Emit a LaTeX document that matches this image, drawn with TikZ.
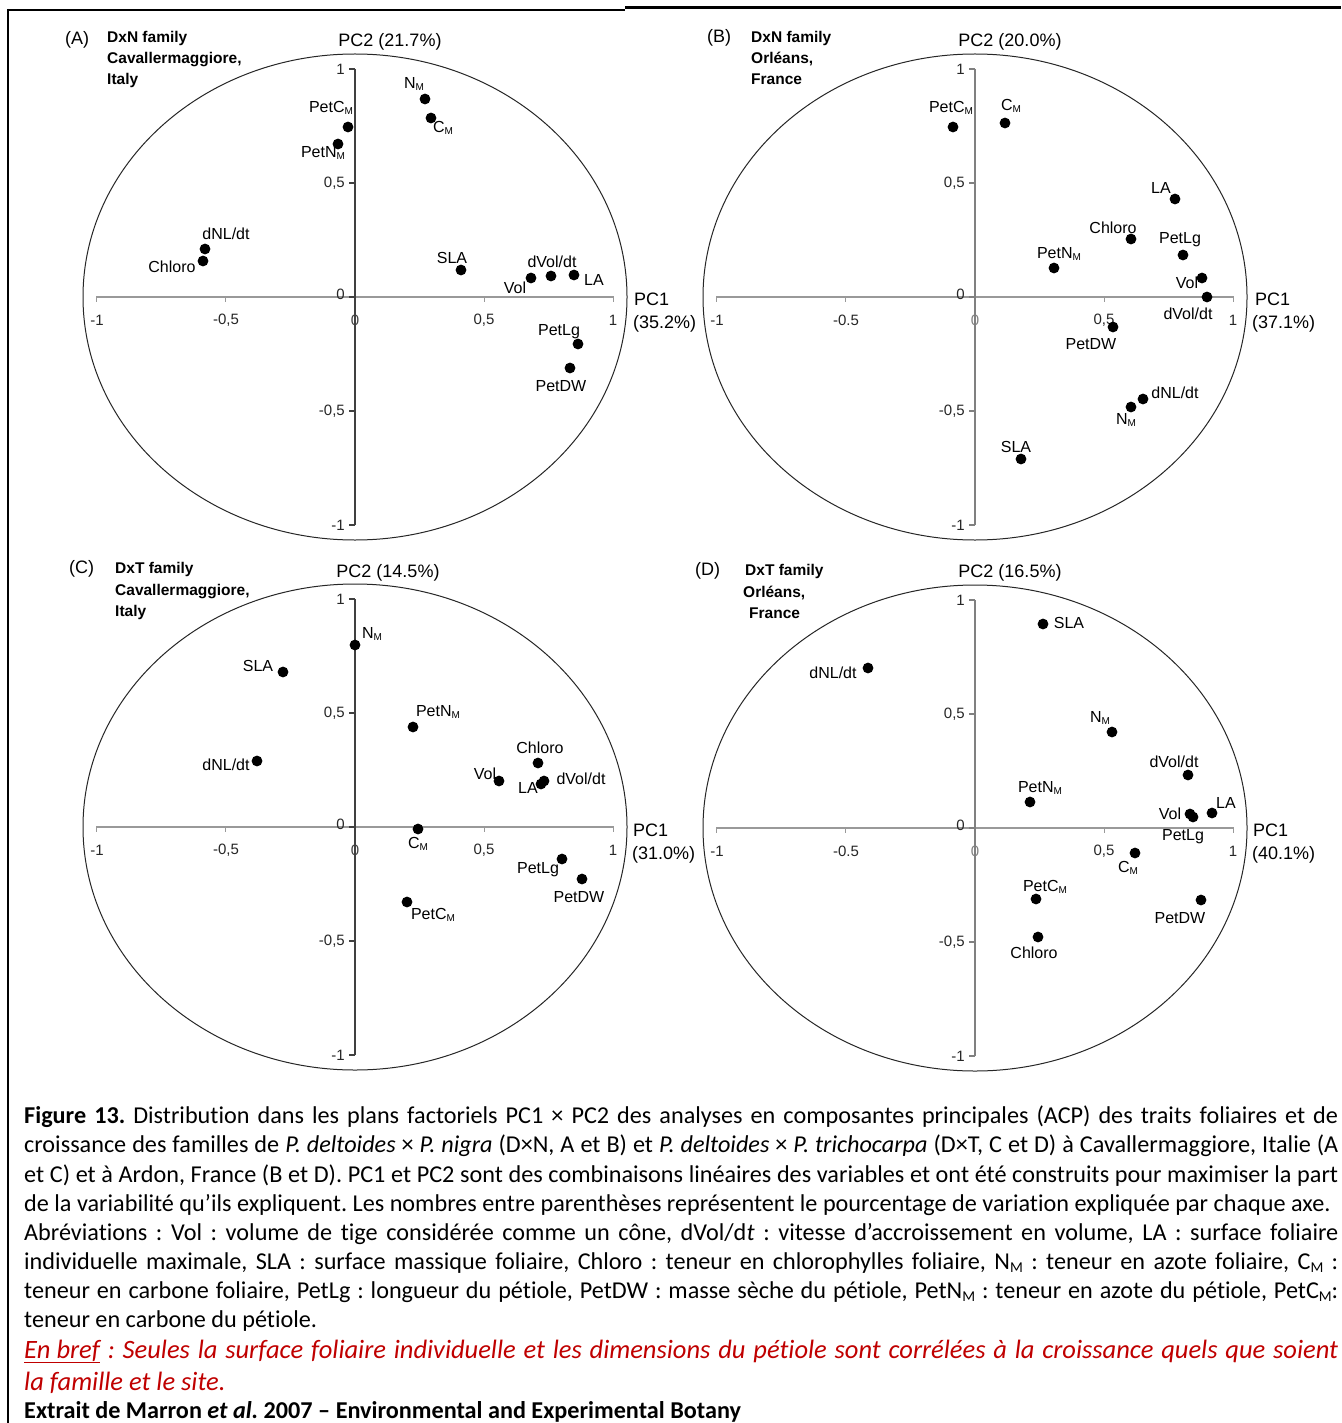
\documentclass[tikz,border=0pt]{standalone}
\usepackage{fontspec}
\setmainfont{Carlito}[Ligatures=NoCommon]
\newfontfamily\plotfont{Liberation Sans}
\usepackage{graphicx}
\frenchspacing
\definecolor{capred}{HTML}{C00000}
\newcommand\msub[1]{\raisebox{-0.3ex}{\fontsize{#1}{#1}\selectfont M}}
\newcommand\pM{\msub{10}}
\newcommand\cM{\msub{15}}
\tikzset{
  pdot/.style={circle, fill=black, inner sep=0pt, minimum size=10.8pt},
  lbl/.style={font=\plotfont\fontsize{16}{16}\selectfont, inner sep=0pt},
  tk/.style={font=\plotfont\fontsize{15}{15}\selectfont, inner sep=0pt, text=black!85},
  ttl/.style={font=\plotfont\fontsize{18}{18}\selectfont, inner sep=0pt},
  fam/.style={font=\plotfont\bfseries\fontsize{15.5}{15.5}\selectfont, inner sep=0pt, anchor=base west},
  ell/.style={draw=black!85, line width=1pt},
  hax/.style={draw=black!40, line width=1.3pt},
  captxt/.style={font=\fontsize{24.2}{28}\selectfont, inner sep=0pt, anchor=base west},
  captred/.style={font=\fontsize{26.5}{30}\selectfont\itshape, text=capred, inner sep=0pt, anchor=base west},
}
% #1 ox, #2 oy, #3 id, #4 label for -0.5 on x axis, #5 colour of vertical axis / zero label
\newcommand\pcframe[5]{%
  \draw[ell] (#1,#2) ellipse [x radius=272, y radius=243];
  \draw[hax] (#1-259,#2) -- (#1+259,#2);
  \foreach \k in {-2,...,2}{\draw[hax] ({#1+\k*129.4},#2) -- ++(0,5);}
  \draw[draw=#5, line width=1.1pt] (#1,#2-228) -- (#1,#2+228);
  \foreach \k in {-2,...,2}{\draw[draw=#5, line width=1.1pt] (#1,{#2+\k*114}) -- ++(-6,0);}
  \node[tk] (#3xa) at (#1-258,#2+23) {-1};
  \node[tk] (#3xb) at (#1-129,#2+23) {#4};
  \node[tk, text=#5] (#3xc) at (#1,#2+23) {0};
  \node[tk] (#3xd) at (#1+129,#2+23) {0,5};
  \node[tk] (#3xe) at (#1+258,#2+23) {1};
  \node[tk, anchor=east] (#3ya) at (#1-10,#2-228) {1};
  \node[tk, anchor=east] (#3yb) at (#1-10,#2-114) {0,5};
  \node[tk, anchor=east] (#3yc) at (#1-10,#2-3) {0};
  \node[tk, anchor=east] (#3yd) at (#1-10,#2+114) {-0,5};
  \node[tk, anchor=east] (#3ye) at (#1-10,#2+228) {-1};
}
\begin{document}
\begin{tikzpicture}[x=1pt,y=-1pt]
\useasboundingbox (0,0) rectangle (1341,1423);
\clip (0,0) rectangle (1341,1423);
\fill[white] (0,0) rectangle (1341,1423);
% frame
\draw[line width=2.5pt] (8,9) -- (8,1423);
\draw[line width=2pt] (7,10) -- (625,10);
\draw[line width=3pt] (625,8) -- (1341,8);

% ================= Panel A =================
\pcframe{355}{297}{A}{-0,5}{black!75}
\node[ttl, anchor=base west] (Alet) at (65,45) {(A)};
\node[fam] (Af1) at (107,43) {DxN family};
\node[fam] (Af2) at (107,64) {Cavallermaggiore,};
\node[fam] (Af3) at (107,85) {Italy};
\node[ttl, anchor=base] (Apc2) at (390,47) {PC2 (21.7\%)};
\node[ttl, anchor=base west] (Apc1) at (634,305) {PC1};
\node[ttl, anchor=base west] (Apc1v) at (633,328) {(35.2\%)};
\node[pdot] (ANM) at (425,99) {};   \node[lbl] (ANMl) at (414,84) {N\pM};
\node[pdot] (ACM) at (431,118) {};  \node[lbl] (ACMl) at (443,128) {C\pM};
\node[pdot] (APC) at (348,127) {};  \node[lbl] (APCl) at (331,108) {PetC\pM};
\node[pdot] (APN) at (338,144) {};  \node[lbl] (APNl) at (323,153) {PetN\pM};
\node[pdot] (AdNL) at (205,249) {}; \node[lbl] (AdNLl) at (226,234) {dNL/dt};
\node[pdot] (ACh) at (203,261) {};  \node[lbl] (AChl) at (172,267) {Chloro};
\node[pdot] (ASLA) at (461,270) {}; \node[lbl] (ASLAl) at (452,258) {SLA};
\node[pdot] (AVol) at (531,278) {}; \node[lbl] (AVoll) at (515,288) {Vol};
\node[pdot] (AdV) at (551,276) {};  \node[lbl] (AdVl) at (552,262) {dVol/dt};
\node[pdot] (ALA) at (574,275) {};  \node[lbl] (ALAl) at (594,280) {LA};
\node[pdot] (APL) at (578,344) {};  \node[lbl] (APLl) at (559,332) {PetLg};
\node[pdot] (APD) at (570,368) {};  \node[lbl] (APDl) at (561,386) {PetDW};

% ================= Panel B =================
\pcframe{975}{297}{B}{-0.5}{black!50}
\node[ttl, anchor=base west] (Blet) at (707,43) {(B)};
\node[fam] (Bf1) at (751,43) {DxN family};
\node[fam] (Bf2) at (751,64) {Orléans,};
\node[fam] (Bf3) at (751,85) {France};
\node[ttl, anchor=base] (Bpc2) at (1010,47) {PC2 (20.0\%)};
\node[ttl, anchor=base west] (Bpc1) at (1255,305) {PC1};
\node[ttl, anchor=base west] (Bpc1v) at (1252,328) {(37.1\%)};
\node[pdot] (BPC) at (953,127) {};  \node[lbl] (BPCl) at (951,108) {PetC\pM};
\node[pdot] (BCM) at (1005,123) {}; \node[lbl] (BCMl) at (1011,106) {C\pM};
\node[pdot] (BLA) at (1175,199) {}; \node[lbl] (BLAl) at (1161,188) {LA};
\node[pdot] (BCh) at (1131,239) {}; \node[lbl] (BChl) at (1113,228) {Chloro};
\node[pdot] (BPL) at (1183,255) {}; \node[lbl] (BPLl) at (1180,240) {PetLg};
\node[pdot] (BPN) at (1054,268) {}; \node[lbl] (BPNl) at (1059,254) {PetN\pM};
\node[pdot] (BVol) at (1202,278) {};\node[lbl] (BVoll) at (1187,283) {Vol};
\node[pdot] (BdV) at (1207,297) {}; \node[lbl] (BdVl) at (1188,314) {dVol/dt};
\node[pdot] (BPD) at (1113,327) {}; \node[lbl] (BPDl) at (1091,344) {PetDW};
\node[pdot] (BdNL) at (1143,399) {};\node[lbl] (BdNLl) at (1175,393) {dNL/dt};
\node[pdot] (BNM) at (1131,407) {}; \node[lbl] (BNMl) at (1126,420) {N\pM};
\node[pdot] (BSLA) at (1021,459) {};\node[lbl] (BSLAl) at (1016,447) {SLA};

% ================= Panel C =================
\pcframe{355}{827}{C}{-0,5}{black!75}
\node[ttl, anchor=base west] (Clet) at (69,573) {(C)};
\node[fam] (Cf1) at (115,573) {DxT family};
\node[fam] (Cf2) at (115,595) {Cavallermaggiore,};
\node[fam] (Cf3) at (115,616) {Italy};
\node[ttl, anchor=base] (Cpc2) at (388,577) {PC2 (14.5\%)};
\node[ttl, anchor=base west] (Cpc1) at (633,836) {PC1};
\node[ttl, anchor=base west] (Cpc1v) at (632,859) {(31.0\%)};
\node[pdot] (CNM) at (355,645) {};  \node[lbl] (CNMl) at (372,634) {N\pM};
\node[pdot] (CSLA) at (283,672) {}; \node[lbl] (CSLAl) at (258,666) {SLA};
\node[pdot] (CPN) at (413,727) {};  \node[lbl] (CPNl) at (438,712) {PetN\pM};
\node[pdot] (CdNL) at (257,761) {}; \node[lbl] (CdNLl) at (226,765) {dNL/dt};
\node[pdot] (CCh) at (538,763) {};  \node[lbl] (CChl) at (540,748) {Chloro};
\node[pdot] (CVol) at (499,781) {}; \node[lbl] (CVoll) at (485,774) {Vol};
\node[pdot] (CLA) at (541,784) {};  \node[lbl] (CLAl) at (528,788) {LA};
\node[pdot] (CdV) at (544,781) {};  \node[lbl] (CdVl) at (581,779) {dVol/dt};
\node[pdot] (CCM) at (418,829) {};  \node[lbl] (CCMl) at (418,844) {C\pM};
\node[pdot] (CPL) at (562,859) {};  \node[lbl] (CPLl) at (538,870) {PetLg};
\node[pdot] (CPD) at (582,879) {};  \node[lbl] (CPDl) at (579,897) {PetDW};
\node[pdot] (CPC) at (407,902) {};  \node[lbl] (CPCl) at (433,915) {PetC\pM};

% ================= Panel D =================
\pcframe{975}{828}{D}{-0.5}{black!50}
\node[ttl, anchor=base west] (Dlet) at (695,575) {(D)};
\node[fam] (Df1) at (745,575) {DxT family};
\node[fam] (Df2) at (743,597) {Orléans,};
\node[fam] (Df3) at (749,618) {France};
\node[ttl, anchor=base] (Dpc2) at (1010,577) {PC2 (16.5\%)};
\node[ttl, anchor=base west] (Dpc1) at (1253,836) {PC1};
\node[ttl, anchor=base west] (Dpc1v) at (1252,859) {(40.1\%)};
\node[pdot] (DSLA) at (1043,624) {}; \node[lbl] (DSLAl) at (1069,623) {SLA};
\node[pdot] (DdNL) at (868,668) {};  \node[lbl] (DdNLl) at (833,673) {dNL/dt};
\node[pdot] (DNM) at (1112,732) {};  \node[lbl] (DNMl) at (1100,718) {N\pM};
\node[pdot] (DdV) at (1188,775) {};  \node[lbl] (DdVl) at (1174,762) {dVol/dt};
\node[pdot] (DPN) at (1030,802) {};  \node[lbl] (DPNl) at (1040,788) {PetN\pM};
\node[pdot] (DLA) at (1212,813) {};  \node[lbl] (DLAl) at (1226,803) {LA};
\node[pdot] (DVol) at (1190,814) {}; \node[lbl] (DVoll) at (1170,814) {Vol};
\node[pdot] (DPL) at (1193,817) {};  \node[lbl] (DPLl) at (1183,837) {PetLg};
\node[pdot] (DCM) at (1135,853) {};  \node[lbl] (DCMl) at (1128,868) {C\pM};
\node[pdot] (DPC) at (1036,899) {};  \node[lbl] (DPCl) at (1045,887) {PetC\pM};
\node[pdot] (DPD) at (1201,900) {};  \node[lbl] (DPDl) at (1180,918) {PetDW};
\node[pdot] (DCh) at (1038,937) {};  \node[lbl] (DChl) at (1034,953) {Chloro};

% ================= Caption =================
\node[captxt] (cap1) at (24,1123) {\makebox[1314pt][s]{\textbf{Figure 13.} Distribution dans les plans factoriels PC1 × PC2 des analyses en composantes principales (ACP) des traits foliaires et de}};
\node[captxt] (cap2) at (24,1152) {\makebox[1314pt][s]{croissance des familles de \textit{P. deltoides} × \textit{P. nigra} (D×N, A et B) et \textit{P. deltoides} × \textit{P. trichocarpa} (D×T, C et D) à Cavallermaggiore, Italie (A}};
\node[captxt] (cap3) at (24,1182) {\makebox[1314pt][s]{et C) et à Ardon, France (B et D). PC1 et PC2 sont des combinaisons linéaires des variables et ont été construits pour maximiser la part}};
\node[captxt] (cap4) at (24,1211) {de la variabilité qu’ils expliquent. Les nombres entre parenthèses représentent le pourcentage de variation expliquée par chaque axe.};
\node[captxt] (cap5) at (24,1240) {\makebox[1314pt][s]{Abréviations : Vol : volume de tige considérée comme un cône, dVol/d\textit{t} : vitesse d’accroissement en volume, LA : surface foliaire}};
\node[captxt] (cap6) at (24,1269) {\makebox[1314pt][s]{individuelle maximale, SLA : surface massique foliaire, Chloro : teneur en chlorophylles foliaire, N\cM{} : teneur en azote foliaire, C\cM{} :}};
\node[captxt] (cap7) at (24,1298) {\makebox[1314pt][s]{teneur en carbone foliaire, PetLg : longueur du pétiole, PetDW : masse sèche du pétiole, PetN\cM{} : teneur en azote du pétiole, PetC\cM:}};
\node[captxt] (cap8) at (24,1327) {teneur en carbone du pétiole.};
\node[captred] (cap9) at (24,1358) {\makebox[1314pt][s]{\underline{En bref} : Seules la surface foliaire individuelle et les dimensions du pétiole sont corrélées à la croissance quels que soient}};
\node[captred] (cap10) at (24,1390) {la famille et le site.};
\node[captxt, font=\fontsize{24.2}{28}\selectfont\bfseries] (cap11) at (24,1418) {Extrait de Marron \textit{et al.} 2007 – Environmental and Experimental Botany};
\end{tikzpicture}
\end{document}
